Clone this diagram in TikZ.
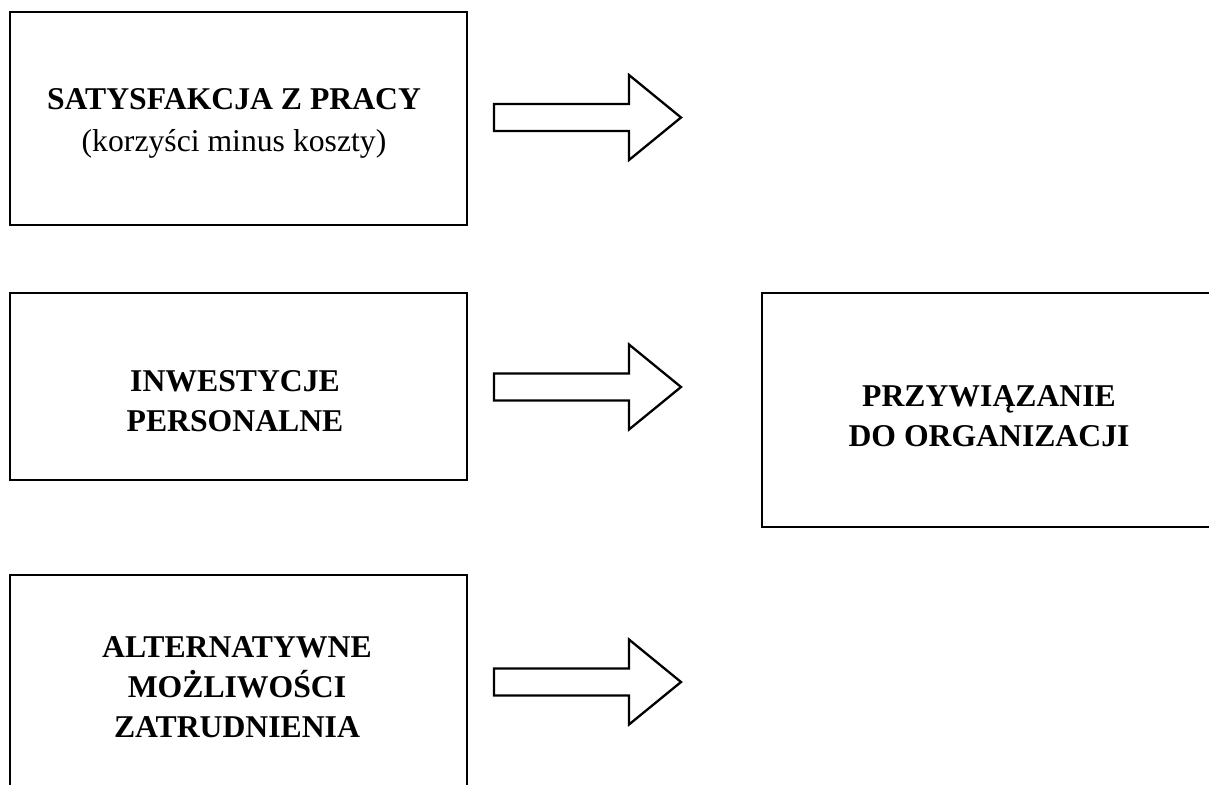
\documentclass[tikz,border=0pt]{standalone}
\usepackage{fontspec}
\setmainfont{Liberation Serif}
\begin{document}
\begin{tikzpicture}[x=1pt,y=-1pt,
  boxstyle/.style={draw=black, line width=2.7pt, fill=white, rectangle, inner sep=0pt},
  labelstyle/.style={align=center, inner sep=0pt, font=\fontsize{31.7}{40}\selectfont\bfseries},
  blockarrow/.style={draw=black, line width=2.3pt, line join=miter, fill=white}]
  \useasboundingbox (0,0) rectangle (1209,784);
  % frames
  \node[boxstyle, minimum width=457pt, minimum height=213pt] (box1) at (238.5,118.5) {};
  \node[boxstyle, minimum width=457pt, minimum height=187pt] (box2) at (238.5,386.5) {};
  \node[boxstyle, minimum width=457pt, minimum height=225pt] (box3) at (238.5,687.5) {};
  \node[boxstyle, minimum width=468pt, minimum height=234pt] (box4) at (996,410) {};
  % labels
  \node[labelstyle] (t1) at (234,123) {SATYSFAKCJA Z PRACY\\[2pt]{\mdseries (korzyści minus koszty)}};
  \node[labelstyle] (t2) at (235,401.5) {INWESTYCJE\\PERSONALNE};
  \node[labelstyle] (t3) at (237,687.5) {ALTERNATYWNE\\MOŻLIWOŚCI\\ZATRUDNIENIA};
  \node[labelstyle] (t4) at (989,416.5) {PRZYWIĄZANIE\\DO ORGANIZACJI};
  % block arrows
  \coordinate (a1) at (494,117.5);
  \coordinate (a2) at (494,387);
  \coordinate (a3) at (494,682);
  \foreach \a in {a1,a2,a3}{
    \draw[blockarrow] (\a) ++(0,-13.5) -- ++(135,0) -- ++(0,-29) -- ++(52,42.5)
      -- ++(-52,42.5) -- ++(0,-29) -- ++(-135,0) -- cycle;
  }
\end{tikzpicture}
\end{document}
